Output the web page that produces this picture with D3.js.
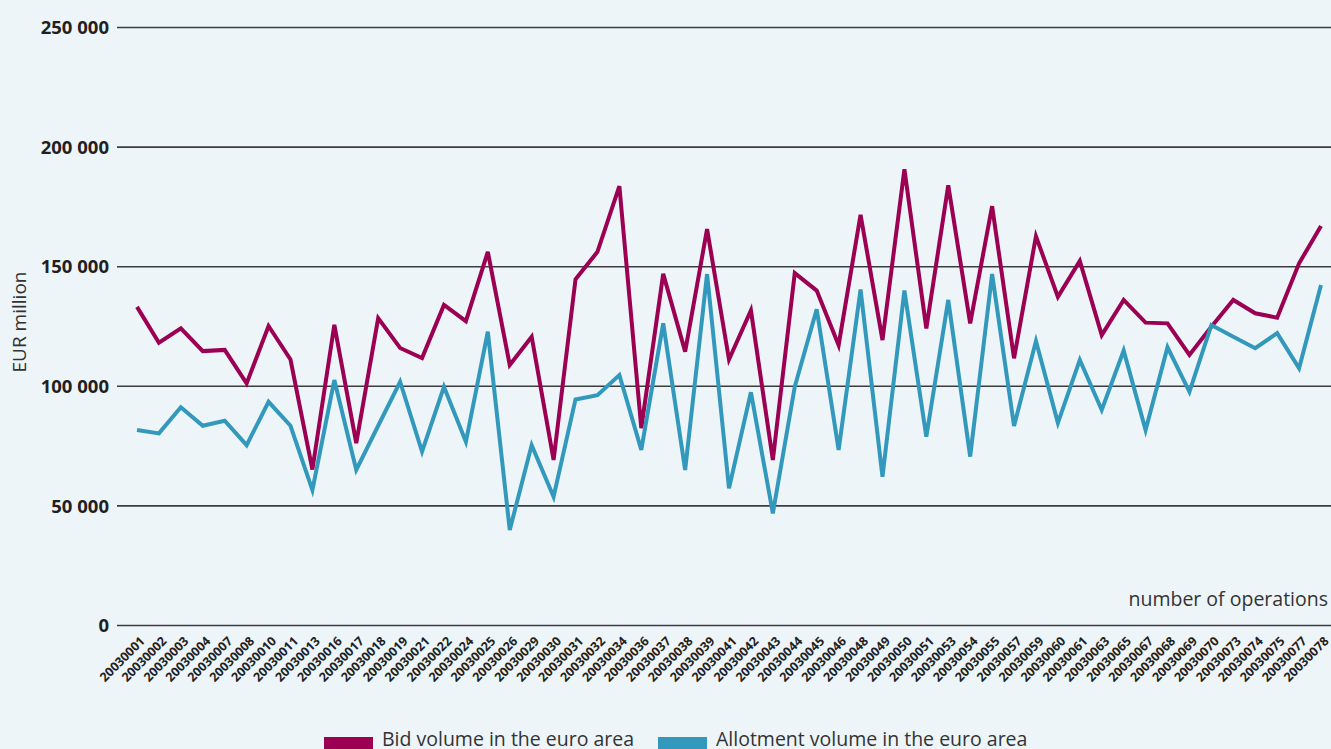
<!DOCTYPE html>
<html>
<head>
<meta charset="utf-8">
<script src="https://cdn.jsdelivr.net/npm/d3@7"></script>
<style>
  body { margin: 0; background: #edf5f9; }
  svg { display: block; font-family: "Open Sans", sans-serif; }
</style>
</head>
<body>
<div id="chart"></div>
<script>
// operation numbers (x categories)
var operations = ["20030001","20030002","20030003","20030004","20030007","20030008","20030010","20030011",
  "20030013","20030016","20030017","20030018","20030019","20030021","20030022","20030024","20030025",
  "20030026","20030029","20030030","20030031","20030032","20030034","20030036","20030037","20030038",
  "20030039","20030041","20030042","20030043","20030044","20030045","20030046","20030048","20030049",
  "20030050","20030051","20030053","20030054","20030055","20030057","20030059","20030060","20030061",
  "20030063","20030065","20030067","20030068","20030069","20030070","20030073","20030074","20030075",
  "20030077","20030078"];

// EUR million
var bidVolume = [133000,118000,124000,114500,115000,101000,125000,111000,65000,125500,
  76000,128300,115800,111600,133800,127000,156000,108700,120500,69000,
  144500,156000,183500,82300,146800,114300,165500,111000,131500,69000,
  147100,139800,117000,171500,119100,190500,124000,183800,126100,175100,
  111500,162500,137200,152200,121200,135900,126400,126100,112900,124700,
  135900,130300,128500,151200,166800];

var allotVolume = [81500,80100,91000,83300,85400,75200,93300,83300,56400,102400,
  64800,83300,101700,72500,99600,76600,122600,39700,75200,53600,
  94300,96100,104500,73200,126100,64800,146700,57100,97300,46700,
  99600,132000,73200,140300,62000,139800,78700,135900,70400,146700,
  83200,118700,84500,110800,89900,114700,81500,116100,97500,125400,
  120500,115700,122000,107300,142100];

var yTicks = [0, 50000, 100000, 150000, 200000, 250000];

var seriesNames = ["Bid volume in the euro area", "Allotment volume in the euro area"];
var seriesColors = ["#9b0052", "#3399bc"];

var svgWidth = 1331, svgHeight = 749;

var svg = d3.select("#chart").append("svg")
  .attr("width", svgWidth)
  .attr("height", svgHeight);

svg.append("rect").attr("width", svgWidth).attr("height", svgHeight).attr("fill", "#edf5f9");

var x = d3.scalePoint().domain(operations).range([137, 1321]);
var y = d3.scaleLinear().domain([0, 250000]).range([625, 27]);

var fmt = function(v) { return d3.format(",")(v).replace(/,/g, " "); };

// grid lines + y labels
var yAxis = d3.axisLeft(y).tickValues(yTicks).tickSize(0).tickFormat(fmt);
var gy = svg.append("g").attr("transform", "translate(117,0)").call(yAxis);
gy.select(".domain").remove();
gy.selectAll("text")
  .attr("x", -8)
  .attr("dy", "0.36em")
  .attr("fill", "#231f20")
  .style("font-size", "18.5px")
  .style("font-weight", "bold")
  .style("font-family", "'Open Sans', sans-serif");
gy.selectAll(".tick").append("line")
  .attr("x1", 0).attr("x2", 1331 - 117)
  .attr("stroke", "#3c3c3c")
  .attr("stroke-width", 1.6);

// x labels
var xAxis = d3.axisBottom(x).tickSize(0);
var gx = svg.append("g").attr("transform", "translate(0,625)").call(xAxis);
gx.select(".domain").remove();
gx.selectAll("text")
  .attr("text-anchor", "end")
  .attr("transform", "translate(8,17) rotate(-45)")
  .attr("y", 0).attr("dy", 0)
  .attr("fill", "#231f20")
  .style("font-size", "12.5px")
  .style("font-weight", "bold")
  .style("font-family", "'Open Sans', sans-serif");

// lines
var line = d3.line()
  .x(function(d, i) { return x(operations[i]); })
  .y(function(d) { return y(d); });

[bidVolume, allotVolume].forEach(function(s, i) {
  svg.append("path")
    .datum(s)
    .attr("d", line)
    .attr("fill", "none")
    .attr("stroke", seriesColors[i])
    .attr("stroke-width", 4)
    .attr("stroke-linejoin", "miter");
});

// axis titles
svg.append("text")
  .attr("transform", "translate(26,322) rotate(-90)")
  .attr("text-anchor", "middle")
  .attr("fill", "#333")
  .style("font-size", "19px")
  .text("EUR million");

svg.append("text")
  .attr("x", 1328).attr("y", 606)
  .attr("text-anchor", "end")
  .attr("fill", "#333")
  .style("font-size", "19.5px")
  .text("number of operations");

// legend
var legendX = [324, 658];
var legend = svg.selectAll("g.legend")
  .data(seriesNames)
  .enter().append("g")
  .attr("class", "legend")
  .attr("transform", function(d, i) { return "translate(" + legendX[i] + ",737)"; });
legend.append("rect")
  .attr("width", 49).attr("height", 12)
  .attr("fill", function(d, i) { return seriesColors[i]; });
legend.append("text")
  .attr("x", 58).attr("y", 9)
  .attr("fill", "#333")
  .style("font-size", "19.5px")
  .text(function(d) { return d; });
</script>
</body>
</html>
